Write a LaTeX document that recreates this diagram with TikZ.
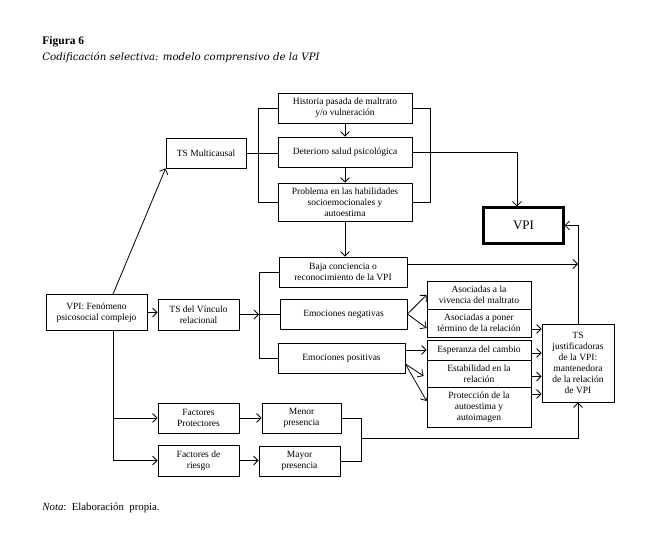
\documentclass[tikz,border=0pt]{standalone}
\usepackage{fontspec}
\setmainfont{Liberation Serif}
\newfontfamily\titlefont{DejaVu Serif}
\usetikzlibrary{arrows.meta,calc}
\begin{document}
\begin{tikzpicture}[x=1pt,y=-1pt,line width=0.8pt,
  box/.style={draw, line width=0.8pt, align=center, inner sep=1pt, font=\fontsize{9.5}{11}\selectfont},
  arr/.style={-{Straight Barb[length=4.5pt,width=9pt]}}
]
\useasboundingbox[fill=white] (0,0) rectangle (654,535);

% titles
\node[anchor=base west, inner sep=0pt, font=\bfseries\fontsize{11.5}{13}\selectfont] (ttl) at (42,45) {Figura 6};
\node[anchor=base west, inner sep=0pt, font=\titlefont\itshape\fontsize{10.2}{12}\selectfont] (sub) at (42,61) {Codificación selectiva: modelo comprensivo de la VPI};
\node[anchor=base west, inner sep=0pt, font=\fontsize{10.8}{12}\selectfont] (nota) at (42,510) {\textit{Nota}:\ \ Elaboración\ \ propia.};

% boxes
\node[box, minimum width=134pt, minimum height=30pt] (hist) at (345,108) {Historia pasada de maltrato\\y/o vulneración};
\node[box, minimum width=134pt, minimum height=30pt] (det) at (345,152) {Deterioro salud psicológica};
\node[box, minimum width=134pt, minimum height=38pt] (prob) at (345,202) {Problema en las habilidades\\socioemocionales y\\autoestima};
\node[box, minimum width=80pt, minimum height=30pt] (tsm) at (206,153) {TS Multicausal};
\node[box, line width=2.2pt, minimum width=80pt, minimum height=36pt, font=\fontsize{13}{15}\selectfont] (vpi) at (523.5,225.5) {VPI};
\node[box, minimum width=128pt, minimum height=30pt] (baja) at (343,272) {Baja conciencia o\\reconocimiento de la VPI};
\node[box, minimum width=127pt, minimum height=30pt] (neg) at (343.5,314) {Emociones negativas};
\node[box, minimum width=127pt, minimum height=30pt] (pos) at (341.5,358) {Emociones positivas};
\node[box, minimum width=101pt, minimum height=36pt] (fen) at (96.5,312.5) {VPI: Fenómeno\\psicosocial complejo};
\node[box, minimum width=81pt, minimum height=31pt] (tsv) at (198.5,314.5) {TS del Vínculo\\relacional};
\node[box, minimum width=104pt, minimum height=28pt] (a1) at (479,295) {Asociadas a la\\vivencia del maltrato};
\node[box, minimum width=104pt, minimum height=28pt] (a2) at (479,323) {Asociadas a poner\\término de la relación};
\node[box, minimum width=104pt, minimum height=20pt] (e1) at (479,350) {Esperanza del cambio};
\node[box, minimum width=104pt, minimum height=27pt] (e2) at (479,373.5) {Estabilidad en la\\relación};
\node[box, minimum width=104pt, minimum height=40pt] (e3) at (479,407) {Protección de la\\autoestima y\\autoimagen};
\node[box, minimum width=72pt, minimum height=78pt] (tsj) at (578,363) {TS\\justificadoras\\de la VPI:\\mantenedora\\de la relación\\de VPI};
\node[box, minimum width=81pt, minimum height=30pt] (fp) at (198.5,418) {Factores\\Protectores};
\node[box, minimum width=81pt, minimum height=31pt] (fr) at (198.5,460.5) {Factores de\\riesgo};
\node[box, minimum width=79pt, minimum height=30pt] (men) at (301.5,418) {Menor\\presencia};
\node[box, minimum width=81pt, minimum height=30pt] (may) at (299.5,461) {Mayor\\presencia};

% connectors
\draw[arr] ($(fen.north)+(16.5,0)$) -- (tsm.south west);
\draw[arr] (fen.east) -- (fen.east -| tsv.west);

\coordinate (lb) at (258,0);
\draw (tsm.east) -- (tsm.east -| det.west);
\draw (hist.west) -- (hist.west -| lb) |- (prob.west);
\draw (hist.east) -- ++(18,0) |- (prob.east);
\draw[arr] (hist.south) -- (det.north);
\draw[arr] (det.south) -- (prob.north);
\draw[arr] (prob.south) -- (prob.south |- baja.north);
\draw[arr] (det.east) -| ($(vpi.north)+(-6.5,0)$);

\coordinate (vbr) at (259,0);
\draw[arr] (tsv.east) -- (tsv.east -| vbr);
\draw (baja.west) -- (baja.west -| vbr) |- (pos.west);
\draw (neg.west) -- (neg.west -| vbr);

\coordinate (bj) at ($(baja.east)+(0,-8)$);
\draw[arr] (bj) -- (bj -| tsj.north);
\draw[arr] (tsj.north) |- (vpi.east);

\draw[arr] (neg.east) -- (a1.west);
\draw[arr] (neg.east) -- ($(a2.west)+(0,5)$);
\draw[arr] (pos.east |- e1.west) -- (e1.west);
\coordinate (pd) at ($(pos.east)+(0,6)$);
\draw[arr] (pd) -- ($(e2.west)+(-3,2.5)$);
\draw[arr] (pd) -- ($(e3.west)+(0,-6)$);

\coordinate (q1) at ($(a2.east)+(0,6)$);
\coordinate (q2) at ($(e1.east)+(0,3)$);
\coordinate (q3) at ($(e2.east)+(0,3)$);
\coordinate (q4) at ($(e3.east)+(0,-13)$);
\draw[arr] (q1) -- (q1 -| tsj.west);
\draw[arr] (q2) -- (q2 -| tsj.west);
\draw[arr] (q3) -- (q3 -| tsj.west);
\draw[arr] (q4) -- (q4 -| tsj.west);

\coordinate (fb) at ($(fen.south)+(16.5,0)$);
\draw[arr] (fb) |- (fr.west);
\draw[arr] (fb |- fp.west) -- (fp.west);
\draw[arr] (fp.east) -- (men.west);
\draw[arr] (fr.east) -- (fr.east -| may.west);
\draw (men.east) -- ++(20,0) |- (may.east);
\coordinate (mb) at (361,438);
\draw[arr] (mb) -| (tsj.south);
\end{tikzpicture}
\end{document}
